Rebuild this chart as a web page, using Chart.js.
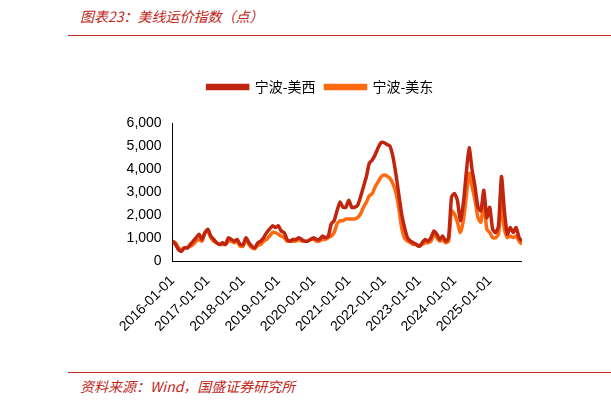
<!DOCTYPE html>
<html><head><meta charset="utf-8">
<script src="https://cdn.jsdelivr.net/npm/chart.js@4"></script>
<style>
body{margin:0;width:611px;height:408px;background:#fff;position:relative;overflow:hidden;font-family:"Noto Sans CJK SC",sans-serif}
#t{position:absolute;left:80px;top:6px;font-size:14px;color:#C0271A;font-style:italic}
#l1{position:absolute;left:68px;top:35px;width:543px;height:1px;background:#C0271A}
#l2{position:absolute;left:68px;top:372px;width:543px;height:1px;background:#C0271A}
#s{position:absolute;left:80px;top:376px;font-size:14px;color:#C0271A;font-style:italic}
#c{position:absolute;left:119px;top:60px;}
</style></head><body>
<div id="t">图表23：美线运价指数（点）</div><div id="l1"></div>
<div id="c"><canvas id="cv" width="403" height="278" style="width:403px;height:278px"></canvas></div>
<div id="l2"></div><div id="s">资料来源：Wind，国盛证券研究所</div>
<script>
const years=["2016-01-01","2017-01-01","2018-01-01","2019-01-01","2020-01-01","2021-01-01","2022-01-01","2023-01-01","2024-01-01","2025-01-01"];
const west=[880,735,515,440,590,590,735,880,1030,1180,955,1250,
1400,1100,955,810,735,810,735,1030,955,880,955,735,
735,1030,810,660,590,810,880,1030,1250,1400,1545,1470,
1545,1320,1250,955,880,955,955,1030,955,880,880,955,
1030,955,955,1100,1030,1100,1620,1765,2200,2570,2350,2350,
2650,2350,2350,2430,2800,3240,3680,4260,4400,4630,4930,5150,
5150,5070,5000,4560,3820,2940,2060,1470,1030,880,810,735,
660,810,955,880,1030,1320,1180,955,1100,880,1030,2800,
2940,2650,1765,2500,3820,4930,3970,3240,2350,2200,3090,1900,
2350,1400,1250,1545,3680,2200,1180,1470,1250,1470,1030,880];
const east=[880,800,590,515,590,590,660,735,880,955,880,1250,
1300,1030,880,810,735,735,735,880,880,810,880,660,
660,955,735,590,560,700,735,880,955,1100,1250,1250,
1180,1100,1030,880,880,880,880,955,880,880,880,955,
955,880,880,955,955,1030,1100,1250,1620,1765,1765,1840,
1840,1840,1840,1900,2060,2350,2570,2850,2940,3240,3450,3670,
3750,3700,3600,3380,3010,2350,1470,1000,880,810,735,735,
660,735,810,810,880,1180,1030,880,955,810,880,2200,
2060,1700,1250,1765,2800,3820,3240,2650,1900,1700,2570,1400,
1250,1030,1030,1180,2500,1400,1030,1100,1030,1100,880,740];
const pts=a=>a.map((v,i)=>({x:i,y:v}));
const f={family:"Arial, 'Liberation Sans'",size:14};
new Chart(document.getElementById('cv'),{type:'line',
data:{datasets:[
{label:'宁波-美西',data:pts(west),borderColor:'#C0260F',backgroundColor:'#C0260F',borderWidth:3.5,pointRadius:0,tension:0.2},
{label:'宁波-美东',data:pts(east),borderColor:'#FF6A10',backgroundColor:'#FF6A10',borderWidth:3.5,pointRadius:0,tension:0.2}]},
options:{responsive:false,animation:false,layout:{padding:{right:0,top:10}},
plugins:{legend:{labels:{boxWidth:40,boxHeight:3,color:'#000',font:{family:"'Noto Sans CJK SC'",size:14},padding:10}},tooltip:{enabled:false}},
scales:{
x:{type:'linear',min:0,max:119,grid:{display:false,drawTicks:true},border:{color:'#000'},
 ticks:{stepSize:12,autoSkip:false,maxRotation:45,minRotation:45,color:'#000',font:f,callback:v=>years[v/12]||''},
 afterBuildTicks:ax=>{ax.ticks=years.map((y,i)=>({value:i*12}));}},
y:{min:0,max:6000,grid:{display:false},border:{color:'#000'},
 afterFit:ax=>{ax.width=53;},
 ticks:{stepSize:1000,color:'#000',font:f,callback:v=>v.toLocaleString('en-US')}}}},
plugins:[{id:'lp',beforeInit(c){const o=c.legend.fit;c.legend.fit=function(){o.call(this);this.height+=19;};}}]});
</script></body></html>
